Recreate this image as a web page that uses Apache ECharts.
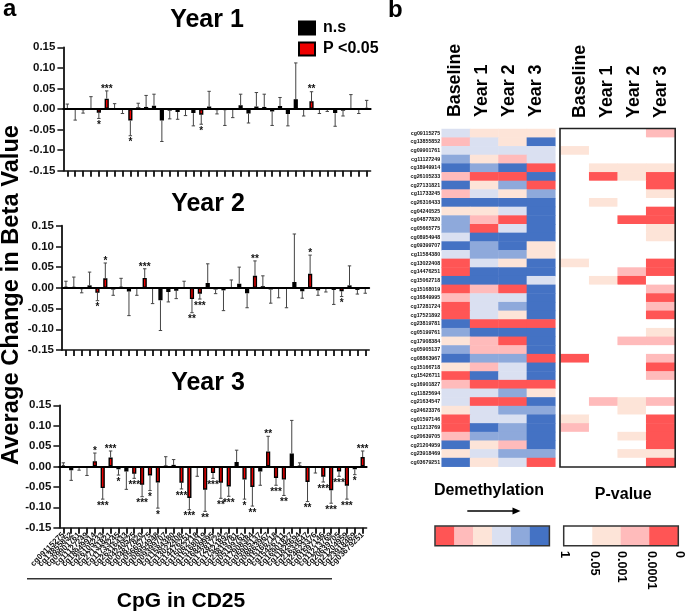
<!DOCTYPE html>
<html><head><meta charset="utf-8">
<style>html,body{margin:0;padding:0;background:#fff}#c{width:685px;height:613px}</style>
<script src="https://cdn.jsdelivr.net/npm/echarts@6/dist/echarts.min.js"></script>
</head><body><div id="c"></div>
<script>
const cpgs=['cg09115275','cg13855852','cg09901761','cg11127249','cg18949914','cg26105233','cg27131821','cg11733245','cg26316433','cg04240525','cg04877820','cg05665775','cg08954948','cg09399707','cg11584380','cg13022408','cg14476251','cg15062718','cg15168019','cg16849995','cg17281724','cg17521892','cg23819781','cg05199761','cg17908384','cg05905137','cg08863967','cg15166718','cg15426711','cg16901827','cg11825694','cg21634547','cg24623376','cg01597146','cg11213769','cg20639705','cg21204959','cg23918469','cg03679251'];
const year1Mean=[0.001,-0.001,-0.003,0.002,-0.009,0.025,0.002,-0.002,-0.028,0.004,0.005,0.008,-0.028,-0.004,-0.007,-0.001,-0.01,-0.014,0.006,-0.003,-0.003,-0.002,0.009,-0.011,0.006,0.005,-0.006,0.007,-0.012,0.024,-0.002,0.019,-0.002,-0.001,-0.01,-0.004,0.001,-0.001,0.003];
const year1Err=[0.012,-0.027,-0.01,0.03,-0.023,0.044,0.013,-0.011,-0.065,0.014,0.033,0.036,-0.079,-0.024,-0.025,-0.016,-0.041,-0.037,0.043,-0.012,-0.04,-0.021,0.036,-0.034,0.04,0.036,-0.04,0.028,-0.041,0.112,-0.017,0.042,-0.011,-0.006,-0.042,-0.017,0.035,-0.011,0.021];
const year1Sig=['','','','','*','***','','','*','','','','','','','','','*','','','','','','','','','','','','','','**','','','','','','',''];
const year2Mean=[0.003,0.002,-0.003,0.006,-0.012,0.023,-0.004,0.003,-0.009,-0.001,0.024,-0.001,-0.03,-0.01,-0.007,-0.001,-0.027,-0.014,0.012,-0.004,-0.006,0.001,0.01,-0.013,0.029,0.004,-0.004,-0.001,-0.001,0.014,-0.008,0.034,-0.006,-0.002,-0.005,-0.008,0.006,-0.005,-0.001];
const year2Err=[0.016,0.026,-0.012,0.038,-0.031,0.06,-0.018,0.023,-0.067,-0.018,0.046,-0.038,-0.103,-0.034,-0.026,0.016,-0.06,-0.027,0.058,-0.014,-0.055,0.019,0.05,-0.048,0.065,0.029,-0.037,-0.024,-0.048,0.13,-0.025,0.079,-0.018,-0.01,-0.04,-0.021,0.053,-0.015,-0.013];
const year2Sig=['','','','','*','*','','','','','***','','','','','','**','***','','','','','','','**','','','','','','','*','','','','*','','',''];
const year3Mean=[0.003,-0.009,-0.001,-0.001,0.013,-0.053,0.022,-0.007,-0.012,-0.018,-0.045,-0.022,-0.039,0.001,0.004,-0.04,-0.077,-0.001,-0.057,-0.016,-0.04,-0.049,0.011,-0.032,-0.05,-0.012,0.037,-0.028,-0.032,0.032,0.001,-0.038,-0.003,-0.025,-0.058,-0.012,-0.047,-0.007,0.023];
const year3Err=[0.009,-0.034,-0.009,-0.022,0.033,-0.08,0.038,-0.021,-0.056,-0.029,-0.074,-0.059,-0.102,0.024,0.017,-0.055,-0.106,-0.024,-0.11,-0.029,-0.078,-0.073,0.04,-0.08,-0.097,-0.046,0.074,-0.046,-0.071,0.113,0.009,-0.086,-0.016,-0.038,-0.09,-0.024,-0.08,-0.02,0.038];
const year3Sig=['','','','','*','***','***','*','','***','***','*','*','','','***','***','','**','***','**','***','','*','**','','**','***','**','','','**','','***','***','***','***','*','***'];
const yTicks={min:-0.15,max:0.15,interval:0.05};
const heatCols=['Baseline','Year 1','Year 2','Year 3'];
const demethPalette=['#FF5555','#FFBBBB','#FDE4D8','#DAE0F1','#8EA9DB','#4472C4'];
const pPalette=['#FFFFFF','#FDE4D8','#FFBBBB','#FF5555'];
const demethRows=['3222','1325','3333','4213','5450','1005','5240','1324','5555','2235','4105','4035','3555','5452','3442','0325','0555','5553','0105','1335','0345','0325','5000','4555','2105','4115','5440','2135','0535','1000','3342','3005','2344','0335','0545','1445','5215','2344','5230'];
const pRows=['0002','0000','1000','0000','0111','0313','0003','0001','0100','0003','0033','0001','0001','0000','0000','1003','0023','0130','0002','0003','0002','0003','0000','0001','0022','0000','3002','0003','0002','0000','0000','0212','0010','1003','2003','0013','0003','0011','0003'];
const demethLegend=[0,1,2,3,4,5];
const pLegend=[0,1,2,3];
const pTickLabels=['1','0.05','0.001','0.0001','0'];
const FONT='"Liberation Sans",Arial,sans-serif';
const panels=[
 {m:year1Mean,e:year1Err,s:year1Sig,left:63.4,top:47.3,w:307.2,h:123.4,labels:false},
 {m:year2Mean,e:year2Err,s:year2Sig,left:62,top:225.7,w:307.2,h:124.3,labels:false},
 {m:year3Mean,e:year3Err,s:year3Sig,left:59.4,top:405.3,w:307.2,h:122.4,labels:true}
];
const grid=[],xAxis=[],yAxis=[],series=[];
panels.forEach((p,g)=>{
  grid.push({left:p.left,top:p.top,width:p.w,height:p.h});
  const xi=xAxis.length;
  xAxis.push({type:'category',gridIndex:g,data:cpgs,position:'bottom',
    axisLine:{onZero:false,lineStyle:{color:'#111',width:1.6}},
    axisTick:{show:true,alignWithLabel:true,length:6,lineStyle:{color:'#111',width:1.8}},
    axisLabel:{show:p.labels,interval:0,rotate:45,fontSize:8,fontWeight:'bold',fontFamily:FONT,color:'#111',margin:6},
    splitLine:{show:false}});
  xAxis.push({type:'category',gridIndex:g,data:cpgs,position:'top',z:5,
    axisLine:{onZero:true,lineStyle:{color:'#000',width:2}},axisTick:{show:false},axisLabel:{show:false},splitLine:{show:false}});
  yAxis.push({type:'value',gridIndex:g,min:yTicks.min,max:yTicks.max,interval:yTicks.interval,
    axisLine:{show:true,lineStyle:{color:'#111',width:1.8}},
    axisTick:{show:true,length:6,lineStyle:{color:'#111',width:1.5}},
    axisLabel:{fontSize:11.5,fontWeight:'bold',fontFamily:FONT,color:'#111',margin:8,formatter:v=>v.toFixed(2)},
    splitLine:{show:false}});
  series.push({name:'n.s',type:'bar',xAxisIndex:xi,yAxisIndex:g,barWidth:4.2,barGap:'-100%',
    itemStyle:{color:'#000',borderColor:'#000',borderWidth:1.4},
    data:p.m.map((v,i)=>p.s[i]?null:v)});
  series.push({name:'P <0.05',type:'bar',xAxisIndex:xi,yAxisIndex:g,barWidth:4.2,barGap:'-100%',
    itemStyle:{color:'#EE0000',borderColor:'#000',borderWidth:1.4},
    data:p.m.map((v,i)=>p.s[i]?v:null)});
  series.push({type:'custom',xAxisIndex:xi,yAxisIndex:g,z:3,silent:true,
    encode:{x:0,y:1},
    data:p.e.map((v,i)=>[i,v,p.m[i]]),
    renderItem:(params,api)=>{
      const i=api.value(0),end=api.coord([i,api.value(1)]),start=api.coord([i,api.value(2)]);
      const st=p.s[params.dataIndex],up=api.value(1)>=0||api.value(1)>api.value(2);
      const kids=[
        {type:'line',shape:{x1:end[0],y1:start[1],x2:end[0],y2:end[1]},style:{stroke:'#444',lineWidth:1}},
        {type:'line',shape:{x1:end[0]-1.7,y1:end[1],x2:end[0]+1.7,y2:end[1]},style:{stroke:'#444',lineWidth:1}}];
      if(st) kids.push({type:'text',style:{text:st,x:end[0],y:up?end[1]-2:end[1]+7,align:'center',verticalAlign:'middle',font:'bold 10px '+FONT,fill:'#111'}});
      return {type:'group',children:kids};
    }});
});
function addHeat(left,top,w,h,cols,rows,cells,palette,showRows){
  const g=grid.length;
  grid.push({left,top,width:w,height:h});
  xAxis.push({type:'category',gridIndex:g,data:cols,show:false});
  yAxis.push({type:'category',gridIndex:g,data:rows,inverse:true,show:showRows,
    axisLine:{show:false},axisTick:{show:false},
    axisLabel:{interval:0,fontSize:5.3,fontWeight:'bold',fontFamily:FONT,color:'#111',margin:1.5}});
  series.push({type:'heatmap',xAxisIndex:xAxis.length-1,yAxisIndex:g,silent:true,
    data:cells.map(c=>({value:[c[0],c[1],c[2]],itemStyle:{color:palette[c[2]]}}))});
}
const cellsOf=r=>{const o=[];r.forEach((s,y)=>[...s].forEach((ch,x)=>o.push([x,y,+ch])));return o;};
addHeat(441.7,129,113.6,337.7,heatCols,cpgs,cellsOf(demethRows),demethPalette,true);
addHeat(560.7,129,114,337.7,heatCols,cpgs,cellsOf(pRows),pPalette,false);
addHeat(435.5,526.5,113.5,19,demethLegend,['d'],demethLegend.map(v=>[v,0,v]),demethPalette,false);
addHeat(564,526.5,114,19,pLegend,['p'],pLegend.map(v=>[v,0,v]),pPalette,false);

const txt=(text,x,y,size,o={})=>({type:'text',x,y,z:50,rotation:o.rot||0,silent:true,
  style:{text,font:(o.normal?'':'bold ')+size+'px '+FONT,fill:o.fill||'#000',align:o.align||'left',verticalAlign:o.va||'middle'}});
const headerX1=[455,482,509,535.7],headerX2=[580,606.7,634,660.7];
const pTickX=[564,594,621.7,651.7,679.3];
const graphic=[
  txt('a',3,9,24),txt('b',388,10,24),
  txt('Average Change in Beta Value',11,295,23.7,{rot:Math.PI/2,align:'center'}),
  txt('CpG in CD25',181,601.5,21,{align:'center'}),
  {type:'line',z:50,silent:true,shape:{x1:27,y1:578.7,x2:332,y2:578.7},style:{stroke:'#333',lineWidth:1.5}},
  ...heatCols.map((t,i)=>txt(t,headerX1[i],117,17.8,{rot:Math.PI/2})),
  ...heatCols.map((t,i)=>txt(t,headerX2[i],118,17.8,{rot:Math.PI/2})),
  {type:'rect',z:50,silent:true,shape:{x:560,y:128.5,width:115.2,height:338.5},style:{fill:'none',stroke:'#222',lineWidth:1.6}},
  {type:'rect',z:50,silent:true,shape:{x:435,y:526,width:114.4,height:19.8},style:{fill:'none',stroke:'#333',lineWidth:1.5}},
  {type:'rect',z:50,silent:true,shape:{x:563.7,y:526,width:114.6,height:19.8},style:{fill:'none',stroke:'#333',lineWidth:1.5}},
  txt('Demethylation',489,491,16,{align:'center'}),
  txt('P-value',623.3,495,16,{align:'center'}),
  {type:'line',z:50,silent:true,shape:{x1:467.3,y1:511,x2:514,y2:511},style:{stroke:'#000',lineWidth:1.3}},
  {type:'polygon',z:50,silent:true,shape:{points:[[512.5,507.5],[520.5,511],[512.5,514.5]]},style:{fill:'#000'}},
  ...pTickLabels.map((t,i)=>txt(t,pTickX[i],551,12.6,{rot:-Math.PI/2}))
];
const chart=echarts.init(document.getElementById('c'),null,{renderer:'canvas'});
chart.setOption({animation:false,backgroundColor:'#fff',
  title:[['Year 1',207,8],['Year 2',208,192],['Year 3',208,371]].map(t=>({text:t[0],left:t[1],top:t[2],textAlign:'center',padding:0,
    textStyle:{fontSize:25,fontWeight:'bold',fontFamily:FONT,color:'#000'}})),
  legend:{left:298,top:20,orient:'vertical',itemWidth:16,itemHeight:13,itemGap:5,selectedMode:false,padding:0,
    icon:'rect',data:['n.s','P <0.05'],
    textStyle:{fontSize:16,fontWeight:'bold',fontFamily:FONT,color:'#000',padding:[0,0,0,3]}},
  tooltip:{show:false},grid,xAxis,yAxis,series,graphic});
</script></body></html>
